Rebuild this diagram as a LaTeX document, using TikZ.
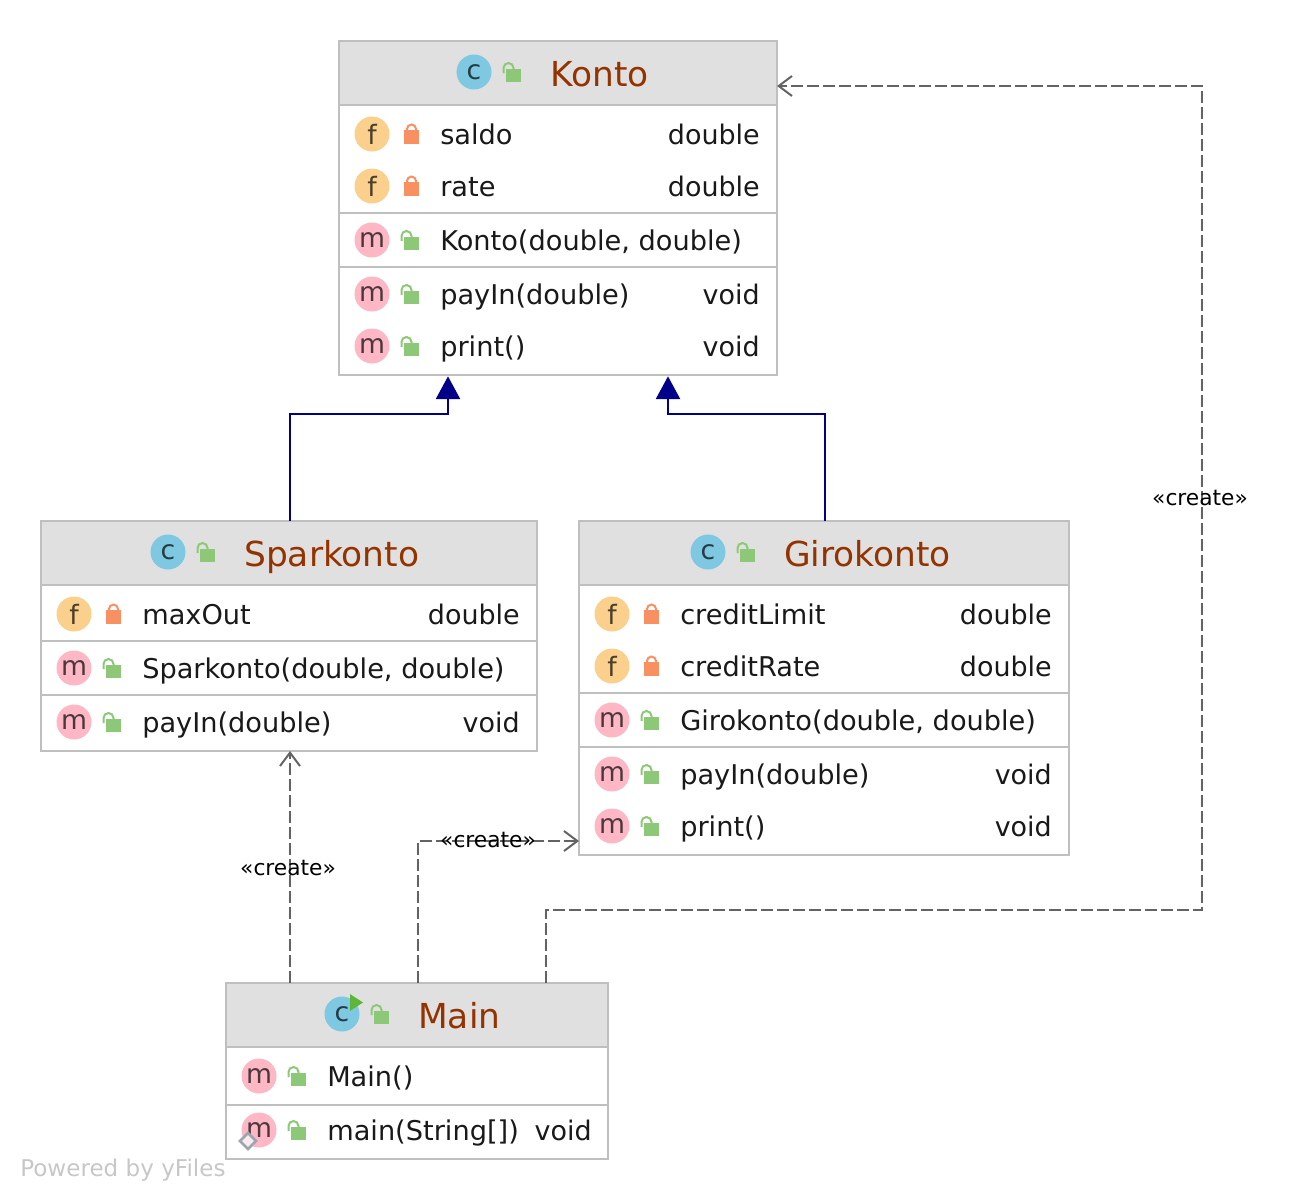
\documentclass[tikz,border=0pt]{standalone}
\usepackage{fontspec}
\setmainfont{DejaVu Sans}
\usetikzlibrary{arrows.meta, fit}

\definecolor{boxgray}{HTML}{BFBFBF}
\definecolor{headgray}{HTML}{E0E0E0}
\definecolor{headtext}{HTML}{933300}
\definecolor{extblue}{HTML}{000088}
\definecolor{dashgray}{HTML}{636363}
\definecolor{classblue}{HTML}{7FC8E2}
\definecolor{fieldorange}{HTML}{FAD08C}
\definecolor{methodpink}{HTML}{FDB7C5}
\definecolor{pubgreen}{HTML}{8DC878}
\definecolor{privorange}{HTML}{F79161}
\definecolor{rungreen}{HTML}{5DB53A}
\definecolor{staticgray}{HTML}{9AA7B0}

\tikzset{
    classbox/.style={draw=boxgray, line width=1.5pt, fill=white, inner sep=0pt, outer sep=0pt},
    headbox/.style={classbox, fill=headgray},
    kindicon/.style={circle, inner sep=0pt, outer sep=0pt, minimum size=26.25pt, font=\fontsize{20}{20}\selectfont},
    classicon/.style={kindicon, fill=classblue, text=black!70!classblue},
    fieldicon/.style={kindicon, fill=fieldorange, text=black!70!fieldorange},
    methodicon/.style={kindicon, fill=methodpink, text=black!70!methodpink},
    headtitle/.style={anchor=base west, inner sep=0pt, text=headtext, font=\fontsize{25.8}{26}\selectfont},
    rowtext/.style={anchor=base west, inner sep=0pt, text=black!90, font=\fontsize{20.4}{21}\selectfont},
    rowtype/.style={anchor=base east, inner sep=0pt, text=black!90, font=\fontsize{20.2}{21}\selectfont},
    createlabel/.style={inner sep=0pt, text=black, font=\fontsize{16.3}{17}\selectfont},
    extline/.style={draw=extblue, line width=1.5pt, -{Triangle[length=17pt, width=18pt, fill=extblue]}, shorten >=1pt},
    depline/.style={draw=dashgray, line width=1.5pt, dash pattern=on 9.2pt off 2.8pt, -{Straight Barb[length=10pt, width=15pt]}},
}

% icons, origin in the middle of the circle
\newcommand{\publock}[2]{
    \fill[pubgreen] (#1+32,#2-3) rectangle (#1+47,#2+10);
    \draw[pubgreen, line width=1.5pt] (#1+29.5,#2+1) -- (#1+29.5,#2-4) arc[start angle=180, end angle=360, radius=5] -- (#1+39.5,#2-3);
}
\newcommand{\privlock}[2]{
    \fill[privorange] (#1+32,#2-4) rectangle (#1+47,#2+10);
    \draw[privorange, line width=1.5pt] (#1+35,#2-4) -- (#1+35,#2-5) arc[start angle=180, end angle=360, radius=4.5] -- (#1+44,#2-4);
}
\newcommand{\fieldrow}[4]{
    \draw (#2,#3) node[fieldicon] (#1Icon) {f};
    \privlock{#2}{#3}
    \draw (#2+68,#3+10) node[rowtext] (#1Text) {#4};
}
\newcommand{\methodrow}[4]{
    \draw (#2,#3) node[methodicon] (#1Icon) {m};
    \publock{#2}{#3}
    \draw (#2+68,#3+10) node[rowtext] (#1Text) {#4};
}
\newcommand{\classhead}[4]{
    \draw (#2,#3) node[classicon] (#1Icon) {c};
    \publock{#2}{#3}
    \draw (#2+76,#3+14) node[headtitle] (#1Title) {#4};
}

\begin{document}
\begin{tikzpicture}[line cap=butt,line join=miter,x=0.75pt,y=-0.75pt]
    \useasboundingbox (0,0) rectangle (1294,1200);

    % Konto
    \node[classbox, fit={(339,41) (777,375)}] (konto) {};
    \node[headbox, fit={(339,41) (777,105)}] (kontoHead) {};
    \draw[boxgray, line width=1.5pt] (339,213) -- (777,213);
    \draw[boxgray, line width=1.5pt] (339,267) -- (777,267);
    \classhead{konto}{474}{72}{Konto}
    \fieldrow{saldo}{372}{134}{saldo}
    \draw (760,144) node[rowtype] (saldoType) {double};
    \fieldrow{rate}{372}{186}{rate}
    \draw (760,196) node[rowtype] (rateType) {double};
    \methodrow{kontoCtor}{372}{240}{Konto(double, double)}
    \methodrow{kontoPayIn}{372}{294}{payIn(double)}
    \draw (760,304) node[rowtype] (kontoPayInType) {void};
    \methodrow{kontoPrint}{372}{346}{print()}
    \draw (760,356) node[rowtype] (kontoPrintType) {void};

    % Sparkonto
    \node[classbox, fit={(41,521) (537,751)}] (spar) {};
    \node[headbox, fit={(41,521) (537,585)}] (sparHead) {};
    \draw[boxgray, line width=1.5pt] (41,641) -- (537,641);
    \draw[boxgray, line width=1.5pt] (41,695) -- (537,695);
    \classhead{spar}{168}{552}{Sparkonto}
    \fieldrow{maxOut}{74}{614}{maxOut}
    \draw (520,624) node[rowtype] (maxOutType) {double};
    \methodrow{sparCtor}{74}{668}{Sparkonto(double, double)}
    \methodrow{sparPayIn}{74}{722}{payIn(double)}
    \draw (520,732) node[rowtype] (sparPayInType) {void};

    % Girokonto
    \node[classbox, fit={(579,521) (1069,855)}] (giro) {};
    \node[headbox, fit={(579,521) (1069,585)}] (giroHead) {};
    \draw[boxgray, line width=1.5pt] (579,693) -- (1069,693);
    \draw[boxgray, line width=1.5pt] (579,747) -- (1069,747);
    \classhead{giro}{708}{552}{Girokonto}
    \fieldrow{creditLimit}{612}{614}{creditLimit}
    \draw (1052,624) node[rowtype] (creditLimitType) {double};
    \fieldrow{creditRate}{612}{666}{creditRate}
    \draw (1052,676) node[rowtype] (creditRateType) {double};
    \methodrow{giroCtor}{612}{720}{Girokonto(double, double)}
    \methodrow{giroPayIn}{612}{774}{payIn(double)}
    \draw (1052,784) node[rowtype] (giroPayInType) {void};
    \methodrow{giroPrint}{612}{826}{print()}
    \draw (1052,836) node[rowtype] (giroPrintType) {void};

    % Main
    \node[classbox, fit={(226,983) (608,1159)}] (main) {};
    \node[headbox, fit={(226,983) (608,1047)}] (mainHead) {};
    \draw[boxgray, line width=1.5pt] (226,1105) -- (608,1105);
    \classhead{main}{342}{1014}{Main}
    \fill[rungreen] (350,994) -- (363,1002.5) -- (350,1011) -- cycle;
    \methodrow{mainCtor}{259}{1076}{Main()}
    \methodrow{mainMain}{259}{1130}{main(String[])}
    \draw (592,1140) node[rowtype] (mainMainType) {void};
    \draw (248,1141) node[draw=staticgray, line width=2pt, fill=methodpink!30, rotate=45, minimum size=8.5pt, inner sep=0pt] (mainStatic) {};

    % inheritance
    \draw[extline] ([xshift=0.5pt]spar.north) |- (448,414) -- ([xshift=-82.5pt]konto.south);
    \draw[extline] ([xshift=0.5pt]giro.north) |- (668,414) -- ([xshift=82.5pt]konto.south);

    % main creates the three classes
    \draw[depline] ([xshift=-95.25pt]main.north) -- ([xshift=0.75pt]spar.south);
    \draw[depline] ([xshift=0.5pt]main.north) |- (giro.west |- 0,841);
    \draw[depline] ([xshift=96.5pt]main.north) |- (1202,910) |- (konto.east |- 0,86);
    \draw (288,868) node[createlabel] (createSpar) {«create»};
    \draw (488,840) node[createlabel] (createGiro) {«create»};
    \draw (1200,498) node[createlabel] (createKonto) {«create»};

    \draw (20,1176) node[anchor=base west, inner sep=0pt, text=black!22, font=\fontsize{17.3}{18}\selectfont] (powered) {Powered by yFiles};
\end{tikzpicture}
\end{document}
